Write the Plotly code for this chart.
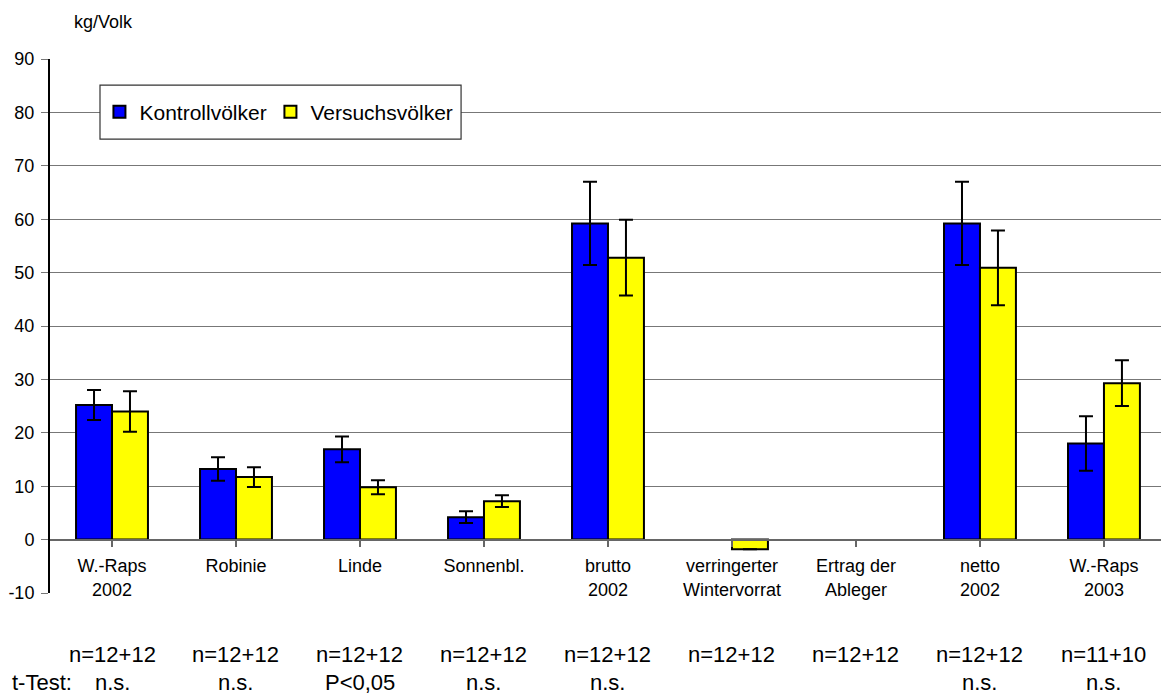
import plotly.graph_objects as go

# Honey yield per colony, control vs. trial colonies
categories = ["W.-Raps<br>2002", "Robinie", "Linde", "Sonnenbl.", "brutto<br>2002",
              "verringerter<br>Wintervorrat", "Ertrag der<br>Ableger", "netto<br>2002",
              "W.-Raps<br>2003"]
kontroll = [25.2, 13.2, 16.9, 4.2, 59.2, None, None, 59.2, 18.0]
kontroll_err = [2.8, 2.2, 2.4, 1.1, 7.8, 0, 0, 7.8, 5.1]
versuch = [24.0, 11.7, 9.8, 7.2, 52.8, -1.8, None, 50.9, 29.3]
versuch_err = [3.8, 1.85, 1.3, 1.1, 7.1, 0, 0, 7.0, 4.3]
n_labels = ["n=12+12"] * 8 + ["n=11+10"]
t_labels = ["n.s.", "n.s.", "P<0,05", "n.s.", "n.s.", "", "", "n.s.", "n.s."]
y_ticks = [-10, 0, 10, 20, 30, 40, 50, 60, 70, 80, 90]
y_ticktext = ["-10", "0", "10", "20", "30", "40", "50", "60", "70", "80", "90"]

FONT = "Liberation Sans, Arial, sans-serif"
x_idx = list(range(len(categories)))

fig = go.Figure()
fig.add_trace(go.Bar(
    x=x_idx, y=kontroll, name="Kontrollvölker", legend="legend",
    marker=dict(color="#0000FF", line=dict(color="black", width=2)),
    error_y=dict(type="data", array=kontroll_err, color="black", thickness=2, width=7),
))
fig.add_trace(go.Bar(
    x=x_idx, y=versuch, name="Versuchsvölker", legend="legend2",
    marker=dict(color="#FFFF00", line=dict(color="black", width=2)),
    error_y=dict(type="data", array=versuch_err, color="black", thickness=2, width=7),
))

BOTTOM_SIZE = 22
annotations = [
    dict(text="kg/Volk", xref="paper", yref="paper", x=0, y=1, xshift=22, yshift=37,
         xanchor="left", yanchor="middle", showarrow=False,
         font=dict(family=FONT, size=18, color="black")),
    dict(text="t-Test:", xref="x", yref="y", x=0, y=-10, xshift=-39, yshift=-89,
         xanchor="right", yanchor="middle", showarrow=False, borderpad=0,
         font=dict(family=FONT, size=BOTTOM_SIZE, color="black")),
]
for i, (n, t) in enumerate(zip(n_labels, t_labels)):
    annotations.append(dict(text=n, xref="x", yref="y", x=i, y=-10, yshift=-61,
                            xanchor="center", yanchor="middle", showarrow=False, borderpad=0,
                            font=dict(family=FONT, size=BOTTOM_SIZE, color="black")))
    if t:
        annotations.append(dict(text=t, xref="x", yref="y", x=i, y=-10, yshift=-89,
                                xanchor="center", yanchor="middle", showarrow=False,
                                borderpad=0,
                                font=dict(family=FONT, size=BOTTOM_SIZE, color="black")))

# frame behind the legend entries
shapes = [dict(type="rect", xref="paper", yref="paper", x0=0.045, x1=0.370, y0=0.850, y1=0.951,
               fillcolor="white", line=dict(color="#333333", width=1.2), layer="above")]

legend_common = dict(orientation="h", y=0.9005, xanchor="left", yanchor="middle",
                     bgcolor="rgba(0,0,0,0)", borderwidth=0,
                     font=dict(family=FONT, size=21, color="black"), itemwidth=30)

fig.update_layout(
    width=1161, height=695,
    margin=dict(l=50, r=0, t=59, b=102),
    paper_bgcolor="white", plot_bgcolor="white",
    barmode="group", bargap=0.42, bargroupgap=0,
    font=dict(family=FONT, size=17, color="black"),
    showlegend=True,
    legend=dict(x=0.0445, **legend_common),
    legend2=dict(x=0.1984, **legend_common),
    annotations=annotations,
    shapes=shapes,
)
fig.update_xaxes(
    range=[-0.5, 8.46], tickmode="array", tickvals=x_idx, ticktext=categories,
    tickson="boundaries", ticks="outside", ticklen=6, tickcolor="#666666", tickwidth=1.5,
    showline=True, linecolor="#666666", linewidth=2,
    anchor="free", position=0.1, showgrid=False, zeroline=False,
    ticklabelstandoff=4,
    tickfont=dict(family=FONT, size=18, color="black"),
)
fig.update_yaxes(
    range=[-10, 90], tickmode="array", tickvals=y_ticks, ticktext=y_ticktext,
    showgrid=True, gridcolor="#777777", gridwidth=1,
    zeroline=False,
    showline=True, linecolor="black", linewidth=2,
    ticks="outside", ticklen=7, tickcolor="#777777", tickwidth=1,
    ticklabelstandoff=3,
    tickfont=dict(family=FONT, size=18, color="black"),
)

fig.write_html("out.html")
